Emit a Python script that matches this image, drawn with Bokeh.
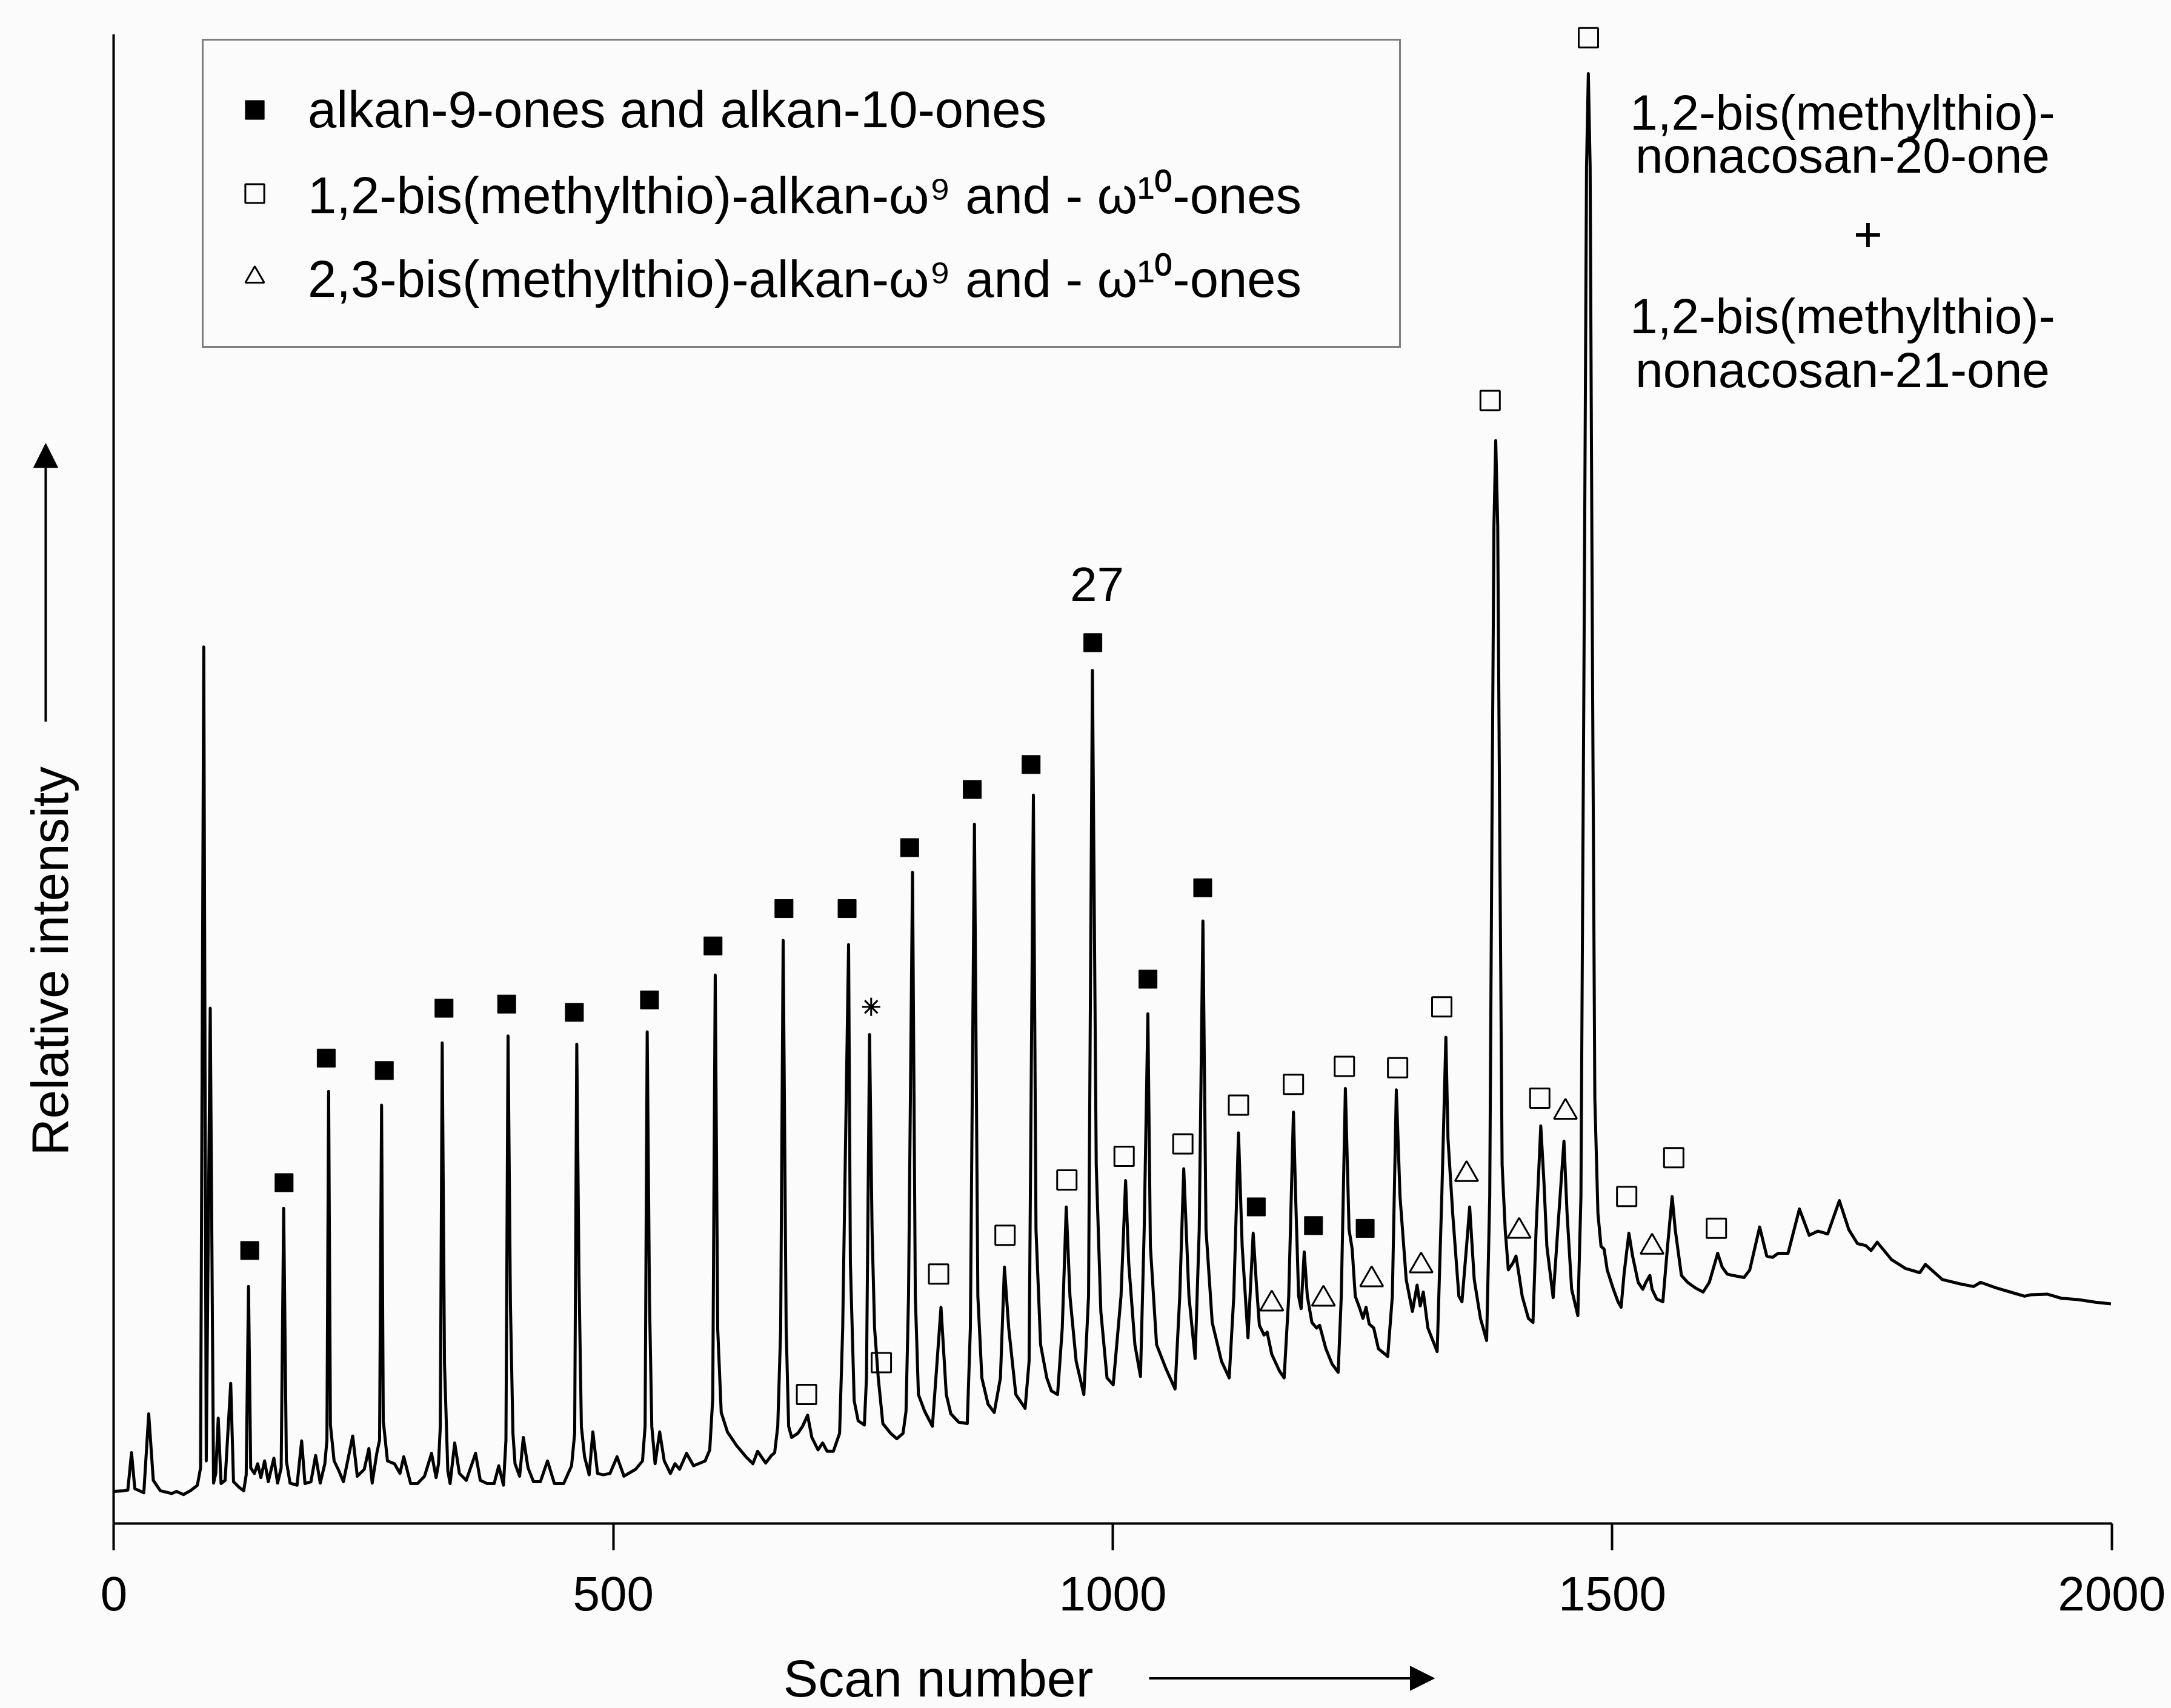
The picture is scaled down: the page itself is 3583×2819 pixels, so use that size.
from bokeh.plotting import figure
from bokeh.models import (Range1d, FixedTicker, Label, Arrow, NormalHead,
                          Legend, LegendItem)
from bokeh.embed import file_html
from bokeh.resources import INLINE
import math

FONT = "Liberation Sans"
BG = "#fbfbfb"

# ---------------- data ----------------
scan_number = [
    0, 10, 14, 17.7, 21, 30, 34.9, 39.5, 46.5, 58, 62.7, 69.7, 76.6, 83.6, 86.8,
    90, 92.5, 96.5, 99.8, 102, 104.5, 107.3, 111.4, 117, 119.8, 125.4, 130, 132.5,
    134.8, 137, 140.7, 144, 147.2, 150.9, 154.6, 160.2, 163.9, 167.5, 170, 172.7,
    176.4, 183.4, 188, 191.3, 197.3, 202, 206.6, 211.2, 213.3, 215, 216.8, 220.5,
    225.2, 229.8, 239.1, 243.7, 250.7, 255.3, 258.6, 263.2, 266, 268, 269.7, 273.9,
    280.9, 286.4, 290.2, 297.1, 304, 311, 318, 322.6, 325, 326.8, 328.7, 331, 334.3,
    336.6, 341.2, 345.9, 352.8, 362.1, 366.8, 373.7, 380.7, 385.3, 390, 392.5, 394.6,
    397, 399.5, 401.6, 406.2, 409.9, 414.6, 420.1, 427, 434.1, 441, 450.3, 458.2,
    461.3, 463.4, 465.6, 468, 471.2, 475.8, 479.5, 484.2, 489.8, 496.7, 503.7, 510.6,
    522.3, 529.2, 531.8, 533.9, 536.2, 538.5, 541.8, 546.4, 551, 557.1, 561.7, 566.3,
    573.3, 580.3, 591.9, 596.5, 599.5, 602, 604.5, 608, 614.2, 623.5, 632.8, 639.7,
    644.4, 652.5, 658.3, 661.5, 664.6, 667.5, 670, 673, 675.5, 678.5, 684.7, 689.4,
    694.5, 698.7, 704.9, 709.5, 714, 720.3, 726.5, 729.6, 735.5, 737.3, 741.1, 745.1,
    751.3, 753.4, 756.5, 759, 761.5, 765.2, 769.8, 777.6, 783.8, 790, 793, 795.5,
    799.5, 802.3, 805.4, 811.6, 819.4, 828, 833.3, 837.9, 845.7, 854.3, 857.4, 861.5,
    864.9, 868.9, 875.1, 881.3, 887.5, 891.5, 895.8, 902.9, 912.2, 916.2, 920.5,
    923.1, 927.7, 933.9, 938.5, 944.7, 949.4, 953.4, 957.1, 963.3, 971, 975.7, 979.6,
    983.4, 988, 994.2, 1000.4, 1008.2, 1012.8, 1015.9, 1022.1, 1027.7, 1031.4, 1035.1,
    1037.6, 1043.8, 1053, 1062.3, 1067, 1071, 1076.2, 1082.4, 1086.5, 1090.2, 1093.3,
    1099.5, 1108.8, 1116.5, 1121.1, 1125.8, 1129.5, 1135.3, 1140.5, 1143.6, 1146.7,
    1151.4, 1154.5, 1159.1, 1166.8, 1171.5, 1176.1, 1180.8, 1183, 1186, 1188.5,
    1191.6, 1194.7, 1199.3, 1204, 1207, 1213.3, 1219.5, 1225.6, 1228.7, 1232.8,
    1236.5, 1239.6, 1242.7, 1247.3, 1250.4, 1253.5, 1256.6, 1261.2, 1265.9, 1275.2,
    1279.8, 1283.8, 1287.5, 1293.7, 1299.9, 1304.6, 1307.7, 1310.8, 1315.4, 1324.7,
    1329.3, 1333.4, 1335.5, 1340.2, 1346.4, 1349.5, 1354.1, 1357.2, 1361.8, 1368,
    1374.2, 1377.3, 1379.5, 1381.5, 1383.3, 1385.3, 1387.3, 1389.7, 1392.8, 1395.9,
    1400.5, 1403.6, 1406.7, 1409.8, 1416, 1420.6, 1423.7, 1428.4, 1431.5, 1434.5,
    1440.8, 1445.4, 1451.6, 1454.7, 1459.3, 1465.5, 1468.6, 1471.5, 1474.2, 1476,
    1477.8, 1480.3, 1482.5, 1485.6, 1488.7, 1491.8, 1494.9, 1501.1, 1505.7, 1508.8,
    1511.9, 1516.6, 1520.3, 1525.9, 1530.5, 1533.6, 1537.6, 1539.8, 1544.4, 1550.6,
    1555.3, 1559.9, 1563, 1569.2, 1575.4, 1583.1, 1590.9, 1597.1, 1605.5, 1610, 1615,
    1620.6, 1631.9, 1637.6, 1647.5, 1654.6, 1660.3, 1666, 1675.9, 1687.3, 1697.1,
    1705.7, 1715.6, 1727.3, 1736.8, 1745.4, 1753.9, 1759, 1765.2, 1779.4, 1793.6,
    1807.8, 1813.4, 1830.4, 1847.5, 1861.6, 1868.7, 1884.3, 1898.5, 1912.7, 1918.3,
    1935.4, 1949.5, 1966.6, 1983.6, 1999.2,
]
relative_intensity = [
    2.3, 2.35, 2.4, 5.1, 2.5, 2.2, 7.9, 3.1, 2.35, 2.15, 2.3, 2.07, 2.35, 2.74, 4.0,
    63.3, 4.5, 37.2, 2.9, 3.6, 7.6, 2.87, 3.1, 10.1, 3.0, 2.6, 2.35, 3.5,
    17.1, 4.0, 3.6, 4.3, 3.3, 4.5, 3.0, 4.7, 2.9, 4.0, 22.75, 4.5,
    2.9, 2.75, 5.95, 2.87, 3.0, 4.9, 2.9, 4.3, 6.0, 31.2, 7.1, 4.5,
    3.8, 3.0, 6.3, 3.4, 3.9, 5.4, 2.9, 5.05, 6.0, 30.2, 7.4, 4.5,
    4.3, 3.6, 4.8, 2.87, 2.87, 3.4, 5.05, 3.3, 4.3, 7.0, 34.7, 11.5, 3.8,
    2.87, 5.8, 3.6, 3.1, 5.05, 3.1, 2.87, 2.87, 4.15, 2.75, 6.0, 35.2,
    15.8, 6.5, 4.3, 3.4, 6.2, 4.0, 3.0, 3.0, 4.5, 2.87, 2.87, 4.15,
    6.5, 34.6, 17.9, 7.0, 4.8, 3.5, 6.6, 3.6, 3.5, 3.6, 4.8, 3.4,
    3.9, 4.5, 7.0, 35.5, 16.1, 7.0, 4.3, 6.6, 4.5, 3.6, 4.3, 3.9,
    5.05, 4.15, 4.5, 5.3, 9.0, 39.6, 14.0, 8.0, 6.6, 5.6, 4.8, 4.3,
    5.2, 4.35, 4.9, 5.1, 7.0, 14.0, 42.1, 14.1, 7.0, 6.2, 6.5, 7.0,
    7.8, 6.2, 5.3, 5.8, 5.2, 5.2, 6.5, 14.1, 41.8, 18.8, 8.85, 7.4,
    7.1, 10.5, 35.3, 21.2, 14.1, 10.5, 7.2, 6.5, 6.1, 6.5, 8.1, 16.4,
    47.0, 16.4, 9.3, 8.1, 7.0, 15.6, 9.3, 7.9, 7.3, 7.2, 14.1, 50.5,
    16.4, 10.5, 8.6, 8.0, 10.5, 18.5, 14.1, 9.3, 8.3, 11.7, 52.6,
    21.2, 12.9, 10.5, 9.56, 9.3, 14.1, 22.85, 16.4, 11.7, 9.3, 16.4, 61.6,
    25.9, 15.3, 10.5, 10.0, 16.4, 24.75, 18.8, 12.9, 10.6, 21.2, 36.8,
    20.0, 12.9, 11.2, 9.7, 16.4, 25.6, 16.4, 11.9, 21.2, 43.5, 21.2,
    14.5, 11.7, 10.5, 16.4, 28.2, 20.0, 13.4, 20.95, 17.4, 14.3,
    13.6, 13.8, 12.2, 11.0, 10.5, 16.4, 29.7, 23.6, 16.4, 15.5,
    19.6, 16.4, 14.5, 14.1, 14.3, 12.6, 11.5, 10.9, 16.4, 31.4,
    21.2, 19.8, 16.4, 15.5, 14.8, 15.6, 14.4, 14.1, 12.6, 12.05,
    16.4, 31.3, 23.6, 17.6, 15.3, 17.2, 15.7, 16.7, 14.1, 12.4,
    23.6, 35.1, 27.8, 22.4, 16.4, 16.0, 20.0, 22.85, 17.6, 14.8,
    13.2, 23.6, 50.0, 72.0, 78.2, 72.0, 50.0, 25.9, 21.2, 18.3,
    18.8, 19.3, 17.9, 16.4, 14.8, 14.5, 21.2, 28.7, 24.75, 20.0,
    16.3, 21.2, 27.6, 22.4, 16.9, 15.0, 23.6, 60.0, 98.0, 104.7,
    98.0, 60.0, 30.7, 22.4, 20.0, 19.8, 18.3, 16.9, 16.0, 15.6,
    18.1, 20.95, 19.3, 17.4, 16.9, 17.4, 17.9, 16.9, 16.2, 16.0,
    20.0, 23.6, 21.2, 17.9, 17.4, 17.0, 16.7, 17.4, 19.5, 18.5, 18.0,
    17.9, 17.75, 18.3, 21.4, 19.3, 19.2, 19.5, 19.5, 22.7, 20.8,
    21.1, 20.9, 23.3, 21.2, 20.2, 20.05, 19.7, 20.3, 19.05, 18.4,
    18.1, 18.7, 17.6, 17.3, 17.1, 17.4, 17.0, 16.7, 16.4, 16.5,
    16.55, 16.25, 16.15, 15.97, 15.85,
]

# marker series: alkan-9-ones and alkan-10-ones (filled squares)
alkanone_scan = [136.0, 170.4, 212.6, 270.7, 330.5, 393.2, 461.0, 536.2, 599.8,
                 670.8, 734.0, 796.6, 859.3, 918.2, 980.0, 1035.2, 1090.0,
                 1143.6, 1200.9, 1252.6]
alkanone_int = [19.7, 24.6, 33.6, 32.7, 37.2, 37.5, 36.9, 37.8, 41.7,
                44.4, 44.4, 48.8, 53.0, 54.8, 63.6, 39.3, 45.9,
                22.85, 21.5, 21.3]

# 1,2-bis(methylthio)-alkan-w9 and -w10-ones (open squares)
bis12_scan = [693.4, 768.3, 825.6, 892.1, 954.0, 1011.3, 1070.1, 1125.8, 1180.8,
              1231.8, 1285.1, 1329.3, 1377.7, 1427.4, 1476.1, 1514.4, 1561.5, 1604.2]
bis12_int = [9.3, 11.6, 18.0, 20.8, 24.8, 26.5, 27.4, 30.2, 31.7,
             33.0, 32.9, 37.3, 81.1, 30.7, 107.3, 23.6, 26.4, 21.3]

# 2,3-bis(methylthio)-alkan-w9 and -w10-ones (open triangles)
bis23_scan = [1159.1, 1210.8, 1259.1, 1308.6, 1354.1, 1406.7, 1453.1, 1539.8]
bis23_int = [15.85, 16.2, 17.6, 18.6, 25.2, 21.1, 29.7, 19.95]

# peak marked with an asterisk
star_scan = [758.1]
star_int = [37.3]

x_ticks = [0, 500, 1000, 1500, 2000]

legend_labels = [
    "alkan-9-ones and alkan-10-ones",
    "1,2-bis(methylthio)-alkan-\u03c9\u2079 and - \u03c9\u00b9\u2070-ones",
    "2,3-bis(methylthio)-alkan-\u03c9\u2079 and - \u03c9\u00b9\u2070-ones",
]
peak_label = "27"
big_peak_lines = ["1,2-bis(methylthio)-", "nonacosan-20-one", "+",
                  "1,2-bis(methylthio)-", "nonacosan-21-one"]
x_title = "Scan number"
y_title = "Relative intensity"

# ---------------- figure ----------------
# The frame fills the whole canvas; the axes are pinned at scan 0 / intensity 0.
p = figure(width=3583, height=2819, output_backend="svg", toolbar_location=None,
           x_range=Range1d(-113.66, 2059.57), y_range=Range1d(-13.365, 110.0),
           min_border=0, min_border_left=0, min_border_right=0,
           min_border_top=0, min_border_bottom=0,
           title=None, background_fill_color=BG, border_fill_color=BG)
p.outline_line_color = None
p.xgrid.grid_line_color = None
p.ygrid.grid_line_color = None

xa = p.xaxis[0]
xa.fixed_location = 0
xa.bounds = (0, 2000)
xa.ticker = FixedTicker(ticks=x_ticks, minor_ticks=[])
xa.axis_line_width = 4
xa.axis_line_color = "black"
xa.major_tick_line_width = 4
xa.major_tick_line_color = "black"
xa.major_tick_out = 44
xa.major_tick_in = 0
xa.minor_tick_line_color = None
xa.major_label_text_font = FONT
xa.major_label_text_font_size = "80px"
xa.major_label_text_color = "black"
xa.major_label_standoff = 45

ya = p.yaxis[0]
ya.fixed_location = 0
ya.bounds = (0, 107.55)
ya.ticker = FixedTicker(ticks=[], minor_ticks=[])
ya.axis_line_width = 4
ya.axis_line_color = "black"
ya.major_tick_line_color = None
ya.minor_tick_line_color = None
ya.major_label_text_color = None

p.line(scan_number, relative_intensity, line_width=5, line_color="black",
       line_join="round")

r_alk = p.scatter(alkanone_scan, alkanone_int, marker="square", size=30,
                  fill_color="black", line_color="black", line_width=1)
r_12 = p.scatter(bis12_scan, bis12_int, marker="square", size=32,
                 fill_color=None, line_color="black", line_width=3)
r_23 = p.scatter(bis23_scan, bis23_int, marker="triangle", size=38,
                 fill_color=None, line_color="black", line_width=3)
p.scatter(star_scan, star_int, marker="asterisk", size=30,
          line_color="black", line_width=3)

legend = Legend(
    items=[LegendItem(label=legend_labels[0], renderers=[r_alk]),
           LegendItem(label=legend_labels[1], renderers=[r_12]),
           LegendItem(label=legend_labels[2], renderers=[r_23])],
    location=(333, 2245), orientation="vertical",
    border_line_color="black", border_line_width=3,
    background_fill_color=BG, background_fill_alpha=1.0,
    label_text_font=FONT, label_text_font_size="85px", label_text_color="black",
    glyph_width=78, glyph_height=78, label_standoff=49, label_width=1756,
    label_height=138, padding=45, spacing=0, margin=0)
p.add_layout(legend)


def make_label(x, y, text, size, angle=0.0):
    return Label(x=x, y=y, text=text, text_font=FONT,
                 text_font_size=f"{size}px", text_color="black",
                 text_align="center", text_baseline="middle", angle=angle)


# peak number label and annotation of the largest peak
p.add_layout(make_label(984.2, 67.8, peak_label, 80))
p.add_layout(make_label(1730.5, 101.9, big_peak_lines[0], 82))
p.add_layout(make_label(1730.5, 98.8, big_peak_lines[1], 82))
p.add_layout(make_label(1756.0, 93.1, big_peak_lines[2], 82))
p.add_layout(make_label(1730.5, 87.2, big_peak_lines[3], 82))
p.add_layout(make_label(1730.5, 83.3, big_peak_lines[4], 82))

# axis titles with arrows
p.add_layout(make_label(825.3, -11.2, x_title, 86))
p.add_layout(Arrow(end=NormalHead(size=40, fill_color="black", line_color="black"),
                   x_start=1036.3, y_start=-11.2, x_end=1322.0, y_end=-11.2,
                   line_width=4, line_color="black"))
p.add_layout(make_label(-63.9, 40.6, y_title, 85, angle=math.pi / 2))
p.add_layout(Arrow(end=NormalHead(size=40, fill_color="black", line_color="black"),
                   x_start=-68.2, y_start=57.9, x_end=-68.2, y_end=78.0,
                   line_width=4, line_color="black"))

open("out.html", "w").write(file_html(p, INLINE))
